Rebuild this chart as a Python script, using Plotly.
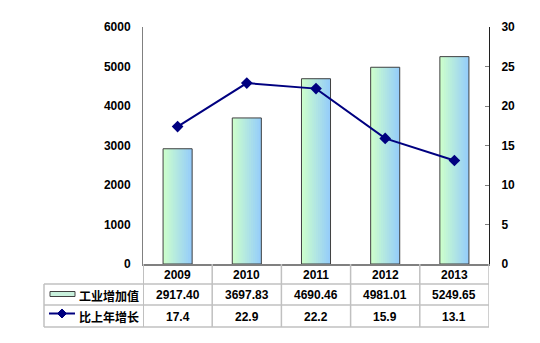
import plotly.graph_objects as go

years = ["2009", "2010", "2011", "2012", "2013"]
value_added = [2917.40, 3697.83, 4690.46, 4981.01, 5249.65]
value_labels = ["2917.40", "3697.83", "4690.46", "4981.01", "5249.65"]
growth = [17.4, 22.9, 22.2, 15.9, 13.1]
growth_labels = ["17.4", "22.9", "22.2", "15.9", "13.1"]
series_names = ["工业增加值", "比上年增长"]
left_ticks = [0, 1000, 2000, 3000, 4000, 5000, 6000]
right_ticks = [0, 5, 10, 15, 20, 25, 30]

W, H = 540, 343
L, R, T, B = 143, 489, 27, 264
pw, ph = R - L, B - T

def px(x):
    return (x - L) / pw

def py(y):
    return (B - y) / ph

FONT = "Liberation Sans, Arial, Noto Sans CJK SC"
xs = list(range(len(years)))

fig = go.Figure()

# gradient bars as overlapping strips
N = 14
bw = 0.42
step = bw / N
c0 = (204, 255, 204)
c1 = (150, 205, 250)
for i in range(N):
    t = i / (N - 1)
    col = tuple(round(c0[k] + (c1[k] - c0[k]) * t) for k in range(3))
    off = -bw / 2 + i * step
    wdt = min(step * 2, bw / 2 - off)
    fig.add_trace(go.Bar(
        x=xs, y=value_added, width=wdt, offset=off,
        marker=dict(color="rgb(%d,%d,%d)" % col, line=dict(width=0)),
        showlegend=False, hoverinfo="skip"))
fig.add_trace(go.Bar(
    x=xs, y=value_added, width=bw, offset=-bw / 2,
    marker=dict(color="rgba(0,0,0,0)", line=dict(color="#404040", width=1)),
    name=series_names[0], showlegend=False))

fig.add_trace(go.Scatter(
    x=xs, y=growth, yaxis="y2", mode="lines+markers",
    line=dict(color="#000080", width=2),
    marker=dict(symbol="diamond", size=9, color="#000080"),
    name=series_names[1], showlegend=False))

fig.update_layout(
    width=W, height=H,
    margin=dict(l=L, r=W - R, t=T, b=H - B),
    paper_bgcolor="white", plot_bgcolor="white",
    barmode="overlay",
    showlegend=False,
    xaxis=dict(range=[-0.5, 4.5], showticklabels=False, ticks="",
               showgrid=False, zeroline=False, showline=True,
               linecolor="#808080", linewidth=2, fixedrange=True),
    yaxis=dict(range=[0, 6000], tickvals=left_ticks, showgrid=False,
               zeroline=False, showline=True, linecolor="#808080", linewidth=1,
               ticks="", ticklabelstandoff=9,
               tickfont=dict(family=FONT, size=12, color="black", weight="bold")),
    yaxis2=dict(range=[0, 30], tickvals=right_ticks, overlaying="y", side="right",
                showgrid=False, zeroline=False, showline=True, linecolor="#202020",
                linewidth=1, ticks="inside", ticklen=4, tickcolor="#808080",
                ticklabelstandoff=9,
                tickfont=dict(family=FONT, size=12, color="black", weight="bold")),
)

grid = "#c0c0c0"
shapes = []
for i in range(len(years) + 1):
    shapes.append(dict(type="line", xref="x", yref="paper", x0=i - 0.5, x1=i - 0.5,
                       y0=0, y1=py(327), line=dict(color=grid, width=2 if i == 0 else 1.5)))
for yy in (284, 305, 327):
    shapes.append(dict(type="line", xref="paper", yref="paper", x0=px(44), x1=1,
                       y0=py(yy), y1=py(yy), line=dict(color=grid, width=1.5)))
shapes.append(dict(type="line", xref="paper", yref="paper", x0=px(44), x1=px(44),
                   y0=py(284), y1=py(327), line=dict(color=grid, width=1.5)))
shapes.append(dict(type="rect", xref="paper", yref="paper", x0=px(50), x1=px(75),
                   y0=py(296.5), y1=py(291.5), fillcolor="#c8f0dc",
                   line=dict(color="#404040", width=1)))
shapes.append(dict(type="line", xref="paper", yref="paper", x0=px(49), x1=px(75),
                   y0=py(313.5), y1=py(313.5), line=dict(color="#000080", width=2)))
cx, cy, d = 62, 313.5, 4.5
shapes.append(dict(type="path", xref="paper", yref="paper",
                   path="M %f %f L %f %f L %f %f L %f %f Z" % (
                       px(cx - d), py(cy), px(cx), py(cy - d), px(cx + d), py(cy), px(cx), py(cy + d)),
                   fillcolor="#000080", line=dict(color="#000080", width=1)))
fig.update_layout(shapes=shapes)

ann = []
tf = dict(family=FONT, size=12, color="black", weight="bold")
for i, yr in enumerate(years):
    ann.append(dict(x=i, y=py(274.5), xref="x", yref="paper", text=yr, showarrow=False,
                    font=tf, xanchor="center", yanchor="middle"))
    ann.append(dict(x=i, y=py(295), xref="x", yref="paper", text=value_labels[i],
                    showarrow=False, font=tf, xanchor="center", yanchor="middle"))
    ann.append(dict(x=i, y=py(316.5), xref="x", yref="paper", text=growth_labels[i],
                    showarrow=False, font=tf, xanchor="center", yanchor="middle"))
cf = dict(family="Noto Sans CJK SC", size=12, color="black", weight="bold")
ann.append(dict(x=px(77), y=py(295), xref="paper", yref="paper", text=series_names[0],
                showarrow=False, font=cf, xanchor="left", yanchor="middle"))
ann.append(dict(x=px(77), y=py(316.5), xref="paper", yref="paper", text=series_names[1],
                showarrow=False, font=cf, xanchor="left", yanchor="middle"))
fig.update_layout(annotations=ann)

fig.write_html("out.html")
